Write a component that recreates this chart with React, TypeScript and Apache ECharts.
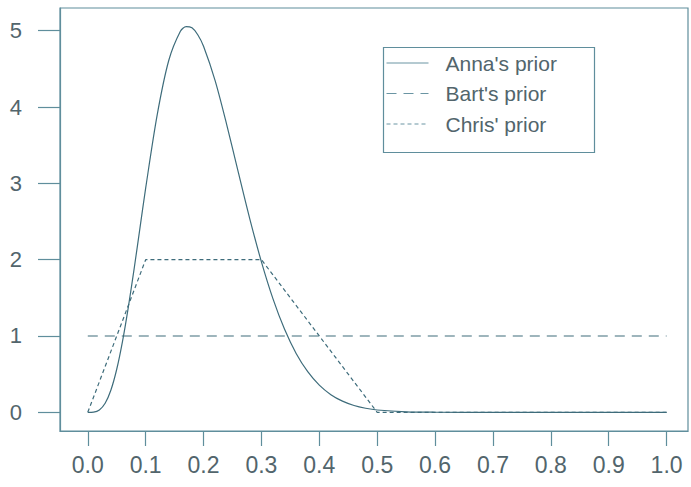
import React, { useEffect, useRef } from "react";
import * as echarts from "echarts";

const annaX = [0, 0.01, 0.02, 0.03, 0.04, 0.05, 0.06, 0.07, 0.08, 0.09, 0.1, 0.12, 0.14, 0.16, 0.17, 0.18, 0.19, 0.2, 0.22, 0.24, 0.26, 0.28, 0.3, 0.32, 0.34, 0.36, 0.38, 0.4, 0.42, 0.44, 0.46, 0.48, 0.5, 0.55, 0.6, 0.7, 0.8, 0.9, 1.0];
const annaY = [0, 0.003, 0.031, 0.118, 0.292, 0.564, 0.93, 1.376, 1.877, 2.407, 2.938, 3.901, 4.613, 4.993, 5.055, 5.038, 4.948, 4.797, 4.347, 3.771, 3.146, 2.532, 1.971, 1.486, 1.087, 0.771, 0.532, 0.356, 0.231, 0.146, 0.089, 0.053, 0.03, 0.006, 0.001, 0, 0, 0, 0];

const bartX = [0, 1];
const bartY = [1, 1];

const chrisX = [0, 0.1, 0.3, 0.5, 1.0];
const chrisY = [0, 2, 2, 0, 0];

const xTicks = [0, 0.1, 0.2, 0.3, 0.4, 0.5, 0.6, 0.7, 0.8, 0.9, 1.0];
const yTicks = [0, 1, 2, 3, 4, 5];

const seriesNames = ["Anna's prior", "Bart's prior", "Chris' prior"];

const lineColor = "#3e6c7b";
const legendLineColor = "#6a95a3";
const frameColor = "#5f8e9c";
const textColor = "#52656c";
const font = "'Liberation Sans', Arial, Helvetica, sans-serif";

const pairs = (xs: number[], ys: number[]) => xs.map((x, i) => [x, ys[i]]);

export default function App() {
  const ref = useRef<HTMLDivElement>(null);
  useEffect(() => {
    if (!ref.current) return;
    const chart = echarts.init(ref.current, null, { renderer: "svg" });
    chart.setOption({
      animation: false,
      backgroundColor: "#ffffff",
      grid: {
        left: 60,
        top: 8,
        width: 628,
        height: 423,
        show: true,
        borderColor: frameColor,
        borderWidth: 1.2,
        containLabel: false,
      },
      xAxis: {
        type: "value",
        min: -0.048,
        max: 1.037,
        axisLine: { show: true, onZero: false, lineStyle: { color: frameColor, width: 1.2 } },
        splitLine: { show: false },
        axisTick: {
          show: true,
          length: 15,
          inside: false,
          customValues: xTicks,
          lineStyle: { color: frameColor, width: 1.2 },
        },
        axisLabel: {
          customValues: xTicks,
          formatter: (v: number) => v.toFixed(1),
          color: textColor,
          fontFamily: font,
          fontSize: 23,
          margin: 22,
        },
      },
      yAxis: {
        type: "value",
        min: -0.245,
        max: 5.298,
        axisLine: { show: true, onZero: false, lineStyle: { color: frameColor, width: 1.2 } },
        splitLine: { show: false },
        axisTick: {
          show: true,
          length: 22,
          inside: false,
          customValues: yTicks,
          lineStyle: { color: frameColor, width: 1.2 },
        },
        axisLabel: {
          customValues: yTicks,
          formatter: (v: number) => String(Math.round(v)),
          color: textColor,
          fontFamily: font,
          fontSize: 22,
          margin: 38,
        },
      },
      legend: {
        show: true,
        orient: "vertical",
        left: 381,
        top: 45,
        padding: [7, 10, 10, 5],
        itemWidth: 42,
        itemHeight: 14,
        itemGap: 8.5,
        itemStyle: { opacity: 0 },
        lineStyle: { opacity: 1, width: 1, color: legendLineColor },
        textStyle: {
          color: textColor,
          fontFamily: font,
          fontSize: 21,
          lineHeight: 22,
          padding: [0, 0, 0, 12],
        },
        data: seriesNames,
      },
      graphic: [
        {
          type: "rect",
          left: 381,
          top: 45,
          shape: { width: 211, height: 105 },
          style: { fill: "none", stroke: frameColor, lineWidth: 1.2 },
          silent: true,
        },
      ],
      series: [
        {
          name: seriesNames[0],
          type: "line",
          data: pairs(annaX, annaY),
          smooth: 0.3,
          showSymbol: false,
          symbol: "none",
          lineStyle: { color: lineColor, width: 1.2, type: "solid" },
          itemStyle: { color: lineColor },
        },
        {
          name: seriesNames[1],
          type: "line",
          data: pairs(bartX, bartY),
          showSymbol: false,
          symbol: "none",
          lineStyle: { color: lineColor, width: 1.2, type: [10, 7] },
          itemStyle: { color: lineColor },
        },
        {
          name: seriesNames[2],
          type: "line",
          data: pairs(chrisX, chrisY),
          showSymbol: false,
          symbol: "none",
          lineStyle: { color: lineColor, width: 1.2, type: [4, 3] },
          itemStyle: { color: lineColor },
        },
      ],
    });
    return () => chart.dispose();
  }, []);
  return <div ref={ref} style={{ width: 691, height: 487, position: "absolute", left: 0, top: 0 }} />;
}
